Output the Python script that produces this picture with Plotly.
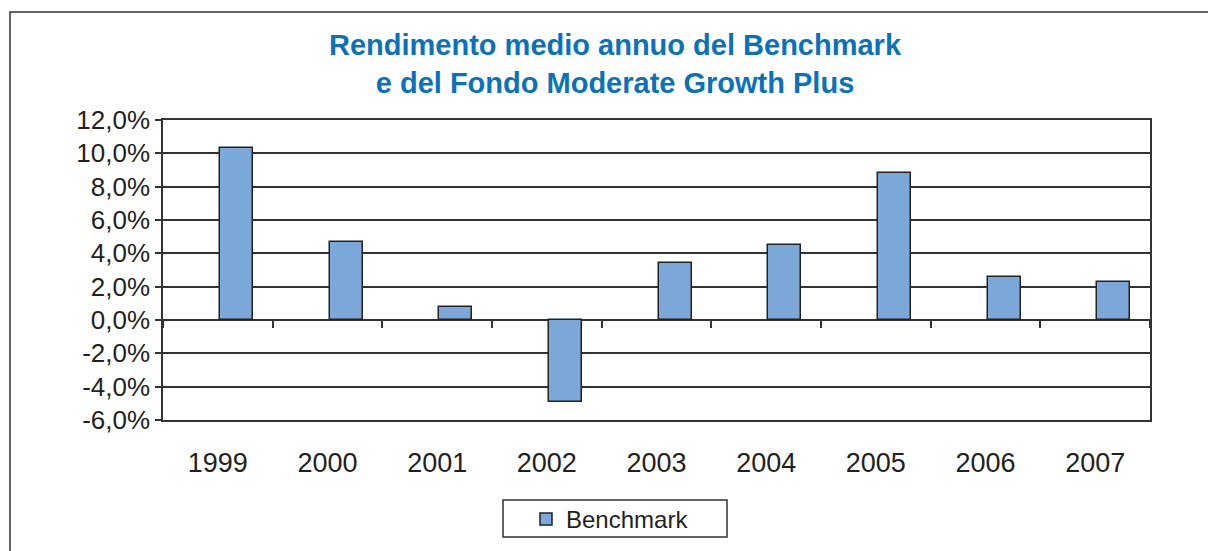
import plotly.graph_objects as go

years = ["1999", "2000", "2001", "2002", "2003", "2004", "2005", "2006", "2007"]
benchmark = [10.3, 4.7, 0.8, -4.9, 3.45, 4.5, 8.8, 2.6, 2.3]
y_tickvals = [-6, -4, -2, 0, 2, 4, 6, 8, 10, 12]
y_ticktext = ["-6,0%", "-4,0%", "-2,0%", "0,0%", "2,0%", "4,0%", "6,0%", "8,0%", "10,0%", "12,0%"]

W, H = 1208, 551
L, R, T, B = 163, 58, 120, 131
pw, ph = W - L - R, H - T - B

def px(x):
    return (x - L) / pw

def py(y):
    return (H - B - y) / ph

dark = "#333333"
font_family = "Liberation Sans, Arial, sans-serif"

fig = go.Figure()
fig.add_trace(go.Bar(
    x=years, y=benchmark, name="Benchmark",
    width=0.3, offset=0.02,
    marker=dict(color="#7BA7D9", line=dict(color="#222222", width=1.5)),
))
fig.add_trace(go.Scatter(
    x=years, y=benchmark, xaxis="x2", mode="none", showlegend=False, hoverinfo="skip",
))

fig.update_layout(
    width=W, height=H,
    margin=dict(l=L, r=R, t=T, b=B, autoexpand=False),
    paper_bgcolor="white", plot_bgcolor="white",
    font=dict(family=font_family, color="#231f20", size=26),
    title=dict(
        text="<b>Rendimento medio annuo del Benchmark<br>e del Fondo Moderate Growth Plus</b>",
        font=dict(color="#0A72BA", size=29, family=font_family),
        x=px(615), xref="paper", xanchor="center",
        y=1 - 55 / H, yref="container", yanchor="middle",
    ),
    xaxis=dict(
        type="category", categoryorder="array", categoryarray=years,
        range=[-0.5, 8.5], automargin=False,
        showline=True, mirror=True, linecolor=dark, linewidth=1.5,
        ticks="outside", ticklen=18, tickcolor="rgba(0,0,0,0)",
        showgrid=False, tickfont=dict(size=27),
    ),
    xaxis2=dict(
        type="category", categoryorder="array", categoryarray=years,
        range=[-0.5, 8.5], automargin=False,
        overlaying="x", anchor="free", position=1 / 3,
        showticklabels=False, ticks="outside", tickson="boundaries",
        ticklen=7, tickwidth=1.5, tickcolor=dark,
        showline=False, showgrid=False,
    ),
    yaxis=dict(
        range=[-6, 12], tickvals=y_tickvals, ticktext=y_ticktext, automargin=False,
        showline=True, mirror=True, linecolor=dark, linewidth=1.5,
        ticks="outside", ticklen=6, tickwidth=1.5, tickcolor=dark,
        showgrid=True, gridcolor=dark, gridwidth=1.5,
        zeroline=True, zerolinecolor=dark, zerolinewidth=1.5,
        tickfont=dict(size=26),
    ),
    bargap=0.0,
    showlegend=True,
    legend=dict(
        x=px(526), y=py(497), xanchor="left", yanchor="top",
        orientation="h", borderwidth=0,
        bgcolor="rgba(0,0,0,0)", font=dict(size=24),
        itemwidth=30,
    ),
    shapes=[
        dict(
            type="path", xref="paper", yref="paper",
            path=f"M {px(10)} {py(H + 5)} L {px(10)} {py(12)} L {px(W + 5)} {py(12)}",
            line=dict(color=dark, width=1.5),
        ),
        dict(
            type="rect", xref="paper", yref="paper",
            x0=px(503), x1=px(727), y0=py(500), y1=py(537),
            line=dict(color=dark, width=1.5),
        ),
    ],
)

fig.write_html("out.html", config={"displayModeBar": False},
               post_script="document.body.style.margin='0';")
